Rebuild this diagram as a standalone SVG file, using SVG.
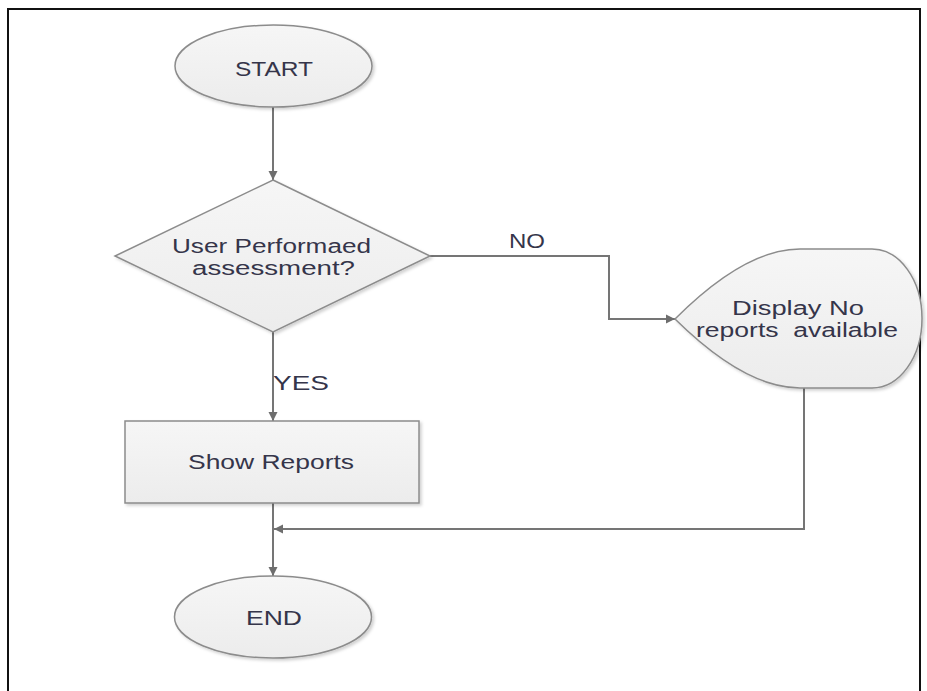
<svg xmlns="http://www.w3.org/2000/svg" width="927" height="691" viewBox="0 0 927 691">
<defs>
<marker id="arr" markerWidth="10" markerHeight="10" refX="9" refY="5" orient="auto" markerUnits="userSpaceOnUse">
<path d="M0,0.5 L9,5 L0,9.5 Z" fill="#6e6e6e"/>
</marker>
<filter id="sh" x="-10%" y="-10%" width="125%" height="130%">
<feDropShadow dx="2" dy="2" stdDeviation="1.5" flood-color="#000" flood-opacity="0.18"/>
</filter>
<linearGradient id="g" x1="0" y1="0" x2="0" y2="1">
<stop offset="0" stop-color="#f6f6f6"/>
<stop offset="1" stop-color="#ececec"/>
</linearGradient>
</defs>
<style>
.shape{fill:url(#g);stroke:#8c8c8c;stroke-width:1.5;filter:url(#sh)}
.t{font-family:"Liberation Sans",Arial,sans-serif;font-size:20px;fill:#35354a;text-anchor:middle}
.lbl{font-family:"Liberation Sans",Arial,sans-serif;font-size:20px;fill:#35354a}
.c{fill:none;stroke:#757575;stroke-width:2}
</style>
<rect x="8" y="9" width="912" height="700" fill="#fff" stroke="#111" stroke-width="2"/>

<g id="connectors">
<path class="c" d="M273,107 L273,180" marker-end="url(#arr)"/>
<path class="c" d="M430,256 L609,256 L609,319 L675,319" marker-end="url(#arr)"/>
<path class="c" d="M273,332 L273,421" marker-end="url(#arr)"/>
<path class="c" d="M273,503 L273,576" marker-end="url(#arr)"/>
<path class="c" d="M804,388 L804,529 L274,529" marker-end="url(#arr)"/>
<text class="lbl" x="509" y="248" textLength="36" lengthAdjust="spacingAndGlyphs">NO</text>
<text class="lbl" x="273" y="390" textLength="56" lengthAdjust="spacingAndGlyphs">YES</text>
</g>

<g id="start">
<ellipse class="shape" cx="273.5" cy="66" rx="98.5" ry="41"/>
<text class="t" x="274" y="76" textLength="78" lengthAdjust="spacingAndGlyphs">START</text>
</g>

<g id="decision">
<polygon class="shape" points="273,180 430,256 273,332 115,256"/>
<text class="t" x="271.5" y="253" textLength="199" lengthAdjust="spacingAndGlyphs">User Performaed</text>
<text class="t" x="273.5" y="275" textLength="163" lengthAdjust="spacingAndGlyphs">assessment?</text>
</g>

<g id="display">
<path class="shape" d="M675,319 Q745,249 800,249 L872,249 A50,69.5 0 0 1 872,388 L800,388 Q745,388 675,319 Z"/>
<text class="t" x="798" y="315" textLength="132" lengthAdjust="spacingAndGlyphs">Display No</text>
<text class="t" x="797" y="337" textLength="202" lengthAdjust="spacingAndGlyphs" xml:space="preserve">reports  available</text>
</g>

<g id="show">
<rect class="shape" x="125" y="421" width="294" height="82"/>
<text class="t" x="271" y="469" textLength="166" lengthAdjust="spacingAndGlyphs">Show Reports</text>
</g>

<g id="end">
<ellipse class="shape" cx="273" cy="617" rx="98.5" ry="41"/>
<text class="t" x="274" y="625" textLength="56" lengthAdjust="spacingAndGlyphs">END</text>
</g>
</svg>
